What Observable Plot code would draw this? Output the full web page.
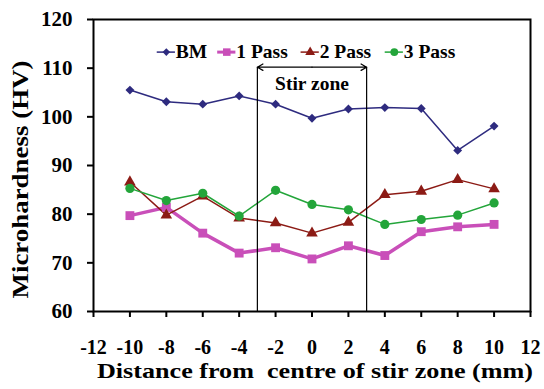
<!DOCTYPE html>
<html><head><meta charset="utf-8">
<script src="https://cdn.jsdelivr.net/npm/d3@7"></script>
<script src="https://cdn.jsdelivr.net/npm/@observablehq/plot@0.6"></script>
<style>
body{margin:0;background:#fff;}
svg{font-family:"Liberation Serif","Times New Roman",serif;font-weight:bold;}
</style></head><body><div id="chart"></div>
<script>
const distance = [-10,-8,-6,-4,-2,0,2,4,6,8,10];
const bm    = [105.5,103.1,102.6,104.3,102.6,99.7,101.6,101.9,101.7,93.1,98.1];
const pass1 = [79.7,81.4,76.1,72.0,73.1,70.8,73.5,71.5,76.4,77.4,77.9];
const pass2 = [86.6,79.8,83.7,79.2,78.2,76.1,78.3,84.0,84.7,87.1,85.2];
const pass3 = [85.3,82.8,84.3,79.6,84.9,82.0,80.9,77.9,78.9,79.8,82.3];
const seriesNames = ["BM","1 Pass","2 Pass","3 Pass"];
const xTicks = [-12,-10,-8,-6,-4,-2,0,2,4,6,8,10,12];
const yTicks = [60,70,80,90,100,110,120];
const stirZone = [-3,3];
const stirTop = 110.2;
const stirLabel = "Stir zone";
const xTitle = "Distance from  centre of stir zone (mm)";
const yTitle = "Microhardness (HV)";

const colors = ["#2E2B7F","#C94FB9","#8C1B15","#23A53A"];
const symbols = ["diamond2","square","triangle","circle"];
const radii = [4,5,4.3,4.6];
const widths = [1.5,3.5,1.5,1.5];
const all = [bm,pass1,pass2,pass3];
const rows = [];
all.forEach((vals,si)=>vals.forEach((v,i)=>rows.push({series:seriesNames[si],x:distance[i],y:v,si})));

// legend layout (in data units)
const legX = [-8,-4.68,-0.1,4.52];
const legY = 113.3;
const legend = seriesNames.map((n,i)=>({name:n,x:legX[i],si:i}));

const marks = [];
seriesNames.forEach((n,si)=>{
  const d = rows.filter(r=>r.si===si);
  marks.push(Plot.line(d,{x:"x",y:"y",stroke:colors[si],strokeWidth:widths[si]}));
});
seriesNames.forEach((n,si)=>{
  const d = rows.filter(r=>r.si===si);
  marks.push(Plot.dot(d,{x:"x",y:"y",symbol:symbols[si],fill:colors[si],stroke:"none",r:radii[si]}));
});
// legend
legend.forEach(l=>{
  marks.push(Plot.ruleY([legY],{x1:l.x-0.5,x2:l.x+0.5,stroke:colors[l.si],strokeWidth:widths[l.si]===3.5?3:1.5}));
  marks.push(Plot.dot([l],{x:"x",y:()=>legY,symbol:symbols[l.si],fill:colors[l.si],stroke:"none",r:radii[l.si]*0.85}));
  marks.push(Plot.text([l],{x:d=>d.x+0.52,y:()=>legY,text:"name",textAnchor:"start",fontSize:19.5,fontWeight:"bold",fill:"black",className:"legtext"}));
});
// stir zone
marks.push(Plot.ruleX(stirZone,{y1:60,y2:stirTop,stroke:"black",strokeWidth:1.2}));
marks.push(Plot.arrow([{a:-3},{a:3}],{x1:0,y1:stirTop,x2:"a",y2:stirTop,stroke:"black",strokeWidth:1.2,headLength:8,insetEnd:0,bend:0}));
marks.push(Plot.text([stirLabel],{x:0,y:106.9,text:d=>d,fontSize:19.5,fontWeight:"bold",fill:"black",className:"stirtext"}));
// frame & axes
marks.push(Plot.frame({stroke:"black",strokeWidth:2}));
marks.push(Plot.axisX({ticks:xTicks,tickSize:6,tickPadding:22,fontSize:20,tickFormat:d=>String(d),label:null,strokeWidth:2}));
marks.push(Plot.axisY({ticks:yTicks,tickSize:6,tickPadding:15,fontSize:21,tickFormat:d=>String(d),label:null,strokeWidth:2}));
marks.push(Plot.text([xTitle],{frameAnchor:"bottom",textAnchor:"middle",dx:3,dy:66.5,fontSize:21.5,fontWeight:"bold",fill:"black",className:"xtitle"}));
marks.push(Plot.text([yTitle],{frameAnchor:"left",textAnchor:"middle",rotate:-90,dx:-73,dy:14,fontSize:22.5,fontWeight:"bold",fill:"black",className:"ytitle"}));

const chart = Plot.plot({
  width:544,height:389,
  marginLeft:93,marginRight:14,marginTop:19,marginBottom:78,
  x:{domain:[-12,12]},
  y:{domain:[60,120]},
  style:{fontFamily:"Liberation Serif, Times New Roman, serif",fontWeight:"bold",color:"black",background:"white"},
  marks
});
// horizontal stretch of titles, as in the reference typesetting
d3.select(chart).selectAll(".xtitle text").attr("textLength",436).attr("lengthAdjust","spacingAndGlyphs");
d3.select(chart).selectAll(".ytitle text").attr("textLength",238).attr("lengthAdjust","spacingAndGlyphs");
document.getElementById("chart").appendChild(chart);
</script></body></html>
